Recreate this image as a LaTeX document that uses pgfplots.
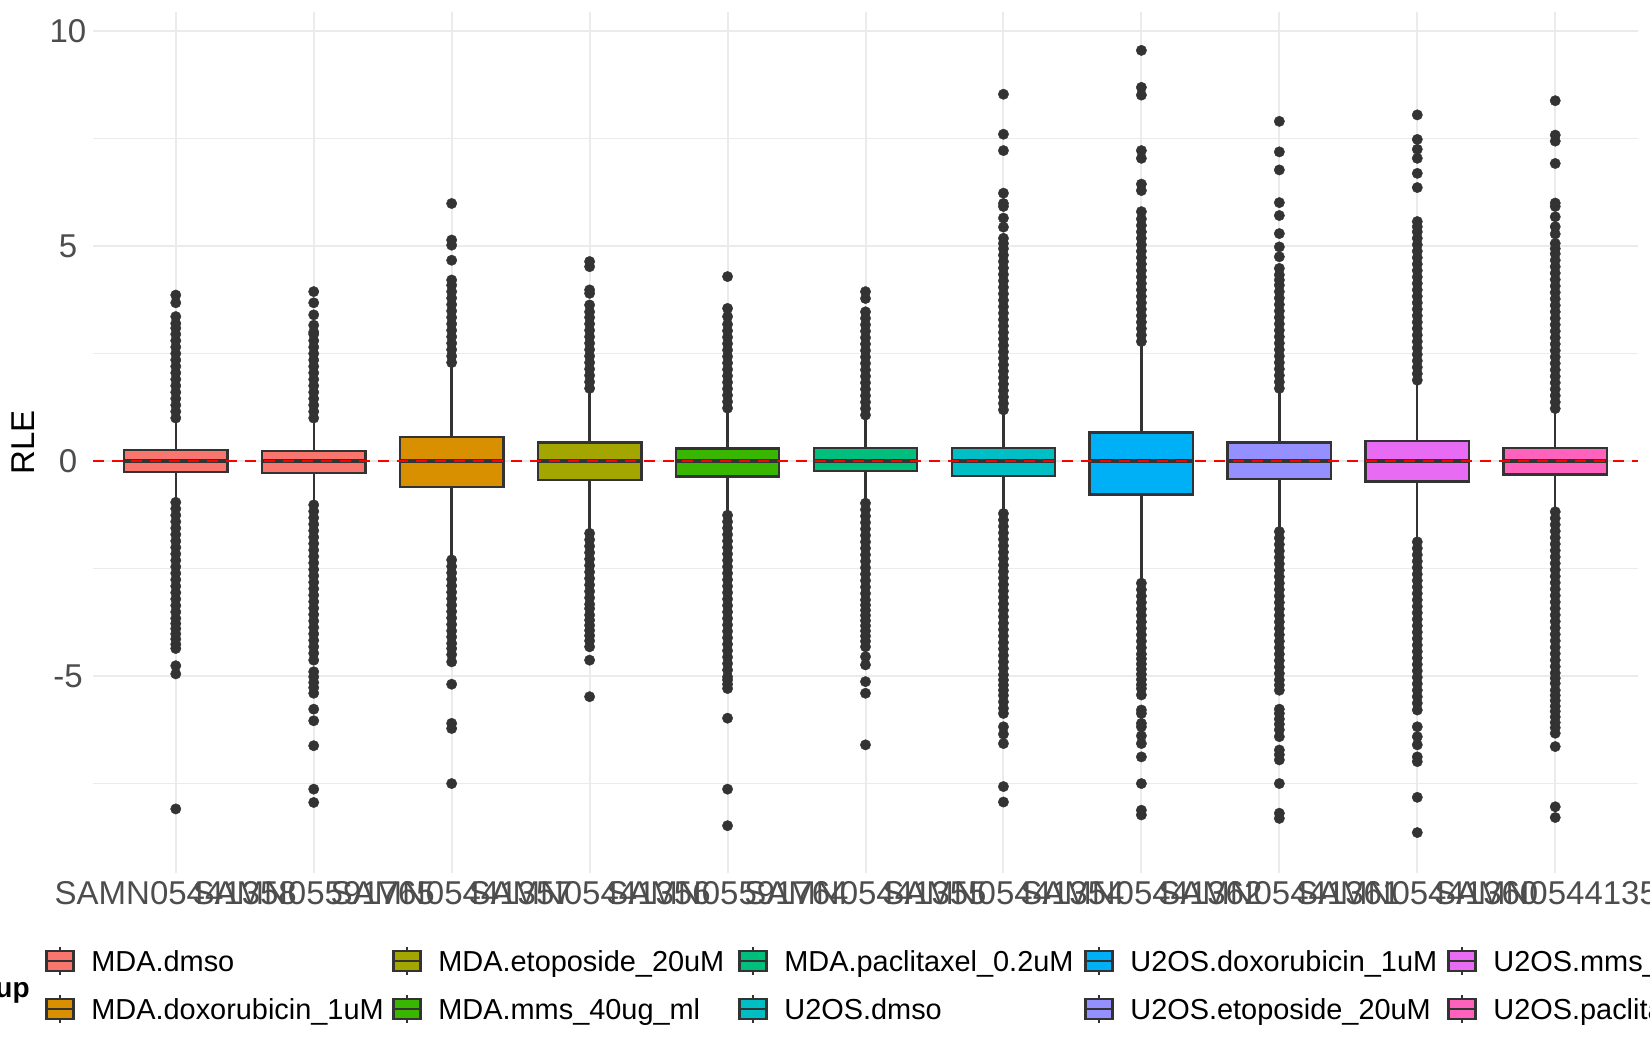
\documentclass[border=0pt]{standalone}
\usepackage{fontspec}
\setmainfont{Liberation Sans}
\usepackage{pgfplots}
\pgfplotsset{compat=1.18}
\usepgfplotslibrary{statistics}
\definecolor{gray20}{HTML}{333333}
\definecolor{gray30}{HTML}{4D4D4D}
\definecolor{gridc}{HTML}{EBEBEB}
\definecolor{c1}{HTML}{F8766D}
\definecolor{c2}{HTML}{D89000}
\definecolor{c3}{HTML}{A3A500}
\definecolor{c4}{HTML}{39B600}
\definecolor{c5}{HTML}{00BF7D}
\definecolor{c6}{HTML}{00BFC4}
\definecolor{c7}{HTML}{00B0F6}
\definecolor{c8}{HTML}{9590FF}
\definecolor{c9}{HTML}{E76BF3}
\definecolor{c10}{HTML}{FF62BC}
\pgfplotsset{
  mybox/.style={draw=gray20, line width=1.2pt, solid, mark=*, mark size=2.6pt,
    mark options={fill=gray20, draw=gray20, line width=0.2pt},
    boxplot/draw direction=y,
    boxplot/box extend=0.75, boxplot/whisker extend=0,
    boxplot/every median/.style={line width=2.4pt}},
}
\newcommand{\lkey}[4]{%
  \draw[gray20, line width=1.1pt] (#1, #2-7pt) -- (#1, #2+7pt);
  \filldraw[fill=#3, draw=gray20, line width=1.1pt] (#1-6.75pt, #2-5pt) rectangle (#1+6.75pt, #2+5pt);
  \draw[gray20, line width=1.1pt] (#1-6.75pt, #2) -- (#1+6.75pt, #2);
  \node[anchor=base west, inner sep=0pt, font=\fontsize{14.45}{17}\selectfont] at (#1+15.5pt, #2-5.2pt) {#4};}
\begin{document}
\begin{tikzpicture}
\useasboundingbox (0,0) rectangle (825pt,525pt);
\clip (0,0) rectangle (825pt,525pt);
\begin{axis}[
  at={(46.5pt,88.5pt)}, anchor=south west, scale only axis,
  width=772.5pt, height=430.65pt,
  xmin=0.4, xmax=11.6, ymin=-9.58, ymax=10.45,
  axis line style={draw=none}, major tick length=0pt, minor tick length=0pt,
  xtick={1,2,3,4,5,6,7,8,9,10,11},
  xticklabels={SAMN05441358,SAMN05591765,SAMN05441357,SAMN05441356,SAMN05591764,SAMN05441355,SAMN05441354,SAMN05441362,SAMN05441361,SAMN05441360,SAMN05441359},
  ytick={-5,0,5,10}, yticklabels={-5,0,5,10},
  minor ytick={-7.5,-2.5,2.5,7.5},
  xmajorgrids, ymajorgrids, yminorgrids,
  major grid style={color=gridc, line width=1pt},
  minor grid style={color=gridc, line width=0.5pt},
  tick label style={font=\fontsize{16.5}{19}\selectfont, text=gray30},
  xticklabel style={anchor=base, yshift=-16pt},
  yticklabel style={anchor=center, inner sep=0pt, xshift=-12.5pt},
  ylabel={RLE},
  every axis y label/.style={at={(rel axis cs:0,0.5)}, xshift=-35pt, rotate=90, anchor=center, font=\fontsize{16.5}{19}\selectfont},
]
\addplot[mybox, fill=c1, boxplot prepared={draw position=1, lower whisker=-0.92, lower quartile=-0.25, median=0, upper quartile=0.25, upper whisker=0.95}]
table[row sep=\\, y index=0] {v\\ 1.00\\ 1.15\\ 1.30\\ 1.45\\ 1.60\\ 1.75\\ 1.90\\ 2.05\\ 2.20\\ 2.35\\ 2.50\\ 2.65\\ 2.80\\ 2.95\\ 3.09\\ 3.20\\ 3.36\\ 3.68\\ 3.86\\
-0.96\\ -1.11\\ -1.26\\ -1.41\\ -1.56\\ -1.71\\ -1.86\\ -2.01\\ -2.16\\ -2.31\\ -2.46\\ -2.61\\ -2.76\\ -2.91\\ -3.06\\ -3.21\\ -3.36\\ -3.51\\ -3.66\\ -3.78\\ -3.90\\ -4.02\\ -4.14\\ -4.26\\ -4.36\\ -4.76\\ -4.95\\ -8.09\\};
\addplot[mybox, fill=c1, boxplot prepared={draw position=2, lower whisker=-0.98, lower quartile=-0.28, median=0, upper quartile=0.24, upper whisker=0.95}]
table[row sep=\\, y index=0] {v\\ 1.00\\ 1.15\\ 1.30\\ 1.45\\ 1.60\\ 1.75\\ 1.90\\ 2.05\\ 2.20\\ 2.35\\ 2.50\\ 2.65\\ 2.80\\ 2.95\\ 3.00\\ 3.16\\ 3.40\\ 3.68\\ 3.94\\
-1.02\\ -1.17\\ -1.32\\ -1.47\\ -1.62\\ -1.77\\ -1.92\\ -2.07\\ -2.22\\ -2.37\\ -2.52\\ -2.67\\ -2.82\\ -2.97\\ -3.12\\ -3.27\\ -3.42\\ -3.57\\ -3.72\\ -3.87\\ -4.02\\ -4.17\\ -4.32\\ -4.47\\ -4.63\\ -4.90\\ -5.02\\ -5.15\\ -5.27\\ -5.40\\ -5.77\\ -6.04\\ -6.62\\ -7.63\\ -7.94\\};
\addplot[mybox, fill=c2, boxplot prepared={draw position=3, lower whisker=-2.25, lower quartile=-0.60, median=0, upper quartile=0.56, upper whisker=2.25}]
table[row sep=\\, y index=0] {v\\ 2.29\\ 2.44\\ 2.59\\ 2.74\\ 2.89\\ 3.04\\ 3.19\\ 3.34\\ 3.49\\ 3.64\\ 3.79\\ 3.94\\ 4.09\\ 4.21\\ 4.67\\ 5.02\\ 5.14\\ 5.99\\
-2.30\\ -2.45\\ -2.60\\ -2.75\\ -2.90\\ -3.05\\ -3.20\\ -3.35\\ -3.50\\ -3.65\\ -3.80\\ -3.95\\ -4.09\\ -4.24\\ -4.36\\ -4.50\\ -4.67\\ -5.19\\ -6.10\\ -6.22\\ -7.50\\};
\addplot[mybox, fill=c3, boxplot prepared={draw position=4, lower whisker=-1.64, lower quartile=-0.44, median=0, upper quartile=0.43, upper whisker=1.65}]
table[row sep=\\, y index=0] {v\\ 1.69\\ 1.84\\ 1.99\\ 2.14\\ 2.29\\ 2.44\\ 2.59\\ 2.74\\ 2.89\\ 3.04\\ 3.19\\ 3.34\\ 3.47\\ 3.63\\ 3.90\\ 3.98\\ 4.52\\ 4.64\\
-1.68\\ -1.83\\ -1.98\\ -2.13\\ -2.28\\ -2.43\\ -2.58\\ -2.73\\ -2.88\\ -3.03\\ -3.18\\ -3.33\\ -3.43\\ -3.58\\ -3.70\\ -3.82\\ -3.94\\ -4.06\\ -4.18\\ -4.32\\ -4.63\\ -5.48\\};
\addplot[mybox, fill=c4, boxplot prepared={draw position=5, lower whisker=-1.22, lower quartile=-0.36, median=0, upper quartile=0.29, upper whisker=1.19}]
table[row sep=\\, y index=0] {v\\ 1.23\\ 1.38\\ 1.53\\ 1.68\\ 1.83\\ 1.98\\ 2.13\\ 2.28\\ 2.43\\ 2.58\\ 2.73\\ 2.88\\ 3.03\\ 3.18\\ 3.36\\ 3.55\\ 4.29\\
-1.26\\ -1.41\\ -1.56\\ -1.71\\ -1.86\\ -2.01\\ -2.16\\ -2.31\\ -2.46\\ -2.61\\ -2.76\\ -2.91\\ -3.06\\ -3.21\\ -3.36\\ -3.51\\ -3.66\\ -3.81\\ -3.96\\ -4.11\\ -4.26\\ -4.41\\ -4.56\\ -4.71\\ -4.86\\ -5.02\\ -5.09\\ -5.19\\ -5.29\\ -5.98\\ -7.63\\ -8.48\\};
\addplot[mybox, fill=c5, boxplot prepared={draw position=6, lower whisker=-0.95, lower quartile=-0.23, median=0, upper quartile=0.30, upper whisker=1.03}]
table[row sep=\\, y index=0] {v\\ 1.07\\ 1.22\\ 1.37\\ 1.52\\ 1.67\\ 1.82\\ 1.97\\ 2.12\\ 2.27\\ 2.42\\ 2.57\\ 2.72\\ 2.87\\ 3.02\\ 3.17\\ 3.32\\ 3.47\\ 3.78\\ 3.94\\
-0.98\\ -1.13\\ -1.28\\ -1.43\\ -1.58\\ -1.73\\ -1.88\\ -2.03\\ -2.18\\ -2.33\\ -2.48\\ -2.63\\ -2.78\\ -2.93\\ -3.08\\ -3.23\\ -3.35\\ -3.47\\ -3.59\\ -3.71\\ -3.83\\ -3.95\\ -4.07\\ -4.19\\ -4.32\\ -4.55\\ -4.74\\ -5.13\\ -5.40\\ -6.60\\};
\addplot[mybox, fill=c6, boxplot prepared={draw position=7, lower whisker=-1.18, lower quartile=-0.35, median=0, upper quartile=0.30, upper whisker=1.15}]
table[row sep=\\, y index=0] {v\\ 1.19\\ 1.34\\ 1.49\\ 1.64\\ 1.79\\ 1.94\\ 2.09\\ 2.24\\ 2.39\\ 2.54\\ 2.69\\ 2.84\\ 2.99\\ 3.14\\ 3.29\\ 3.44\\ 3.59\\ 3.74\\ 3.89\\ 4.04\\ 4.19\\ 4.34\\ 4.49\\ 4.64\\ 4.79\\ 4.94\\ 5.06\\ 5.18\\ 5.44\\ 5.65\\ 5.92\\ 5.99\\ 6.23\\ 7.22\\ 7.60\\ 8.53\\
-1.22\\ -1.37\\ -1.52\\ -1.67\\ -1.82\\ -1.97\\ -2.12\\ -2.27\\ -2.42\\ -2.57\\ -2.72\\ -2.87\\ -3.02\\ -3.17\\ -3.32\\ -3.47\\ -3.62\\ -3.77\\ -3.92\\ -4.07\\ -4.22\\ -4.37\\ -4.52\\ -4.67\\ -4.82\\ -4.97\\ -5.09\\ -5.21\\ -5.33\\ -5.45\\ -5.60\\ -5.75\\ -5.87\\ -6.18\\ -6.35\\ -6.57\\ -7.57\\ -7.93\\};
\addplot[mybox, fill=c7, boxplot prepared={draw position=8, lower whisker=-2.82, lower quartile=-0.78, median=0, upper quartile=0.66, upper whisker=2.75}]
table[row sep=\\, y index=0] {v\\ 2.78\\ 2.93\\ 3.08\\ 3.23\\ 3.38\\ 3.53\\ 3.68\\ 3.83\\ 3.98\\ 4.13\\ 4.28\\ 4.43\\ 4.58\\ 4.73\\ 4.88\\ 5.03\\ 5.18\\ 5.33\\ 5.48\\ 5.63\\ 5.80\\ 6.29\\ 6.44\\ 7.04\\ 7.22\\ 8.51\\ 8.69\\ 9.55\\
-2.84\\ -2.99\\ -3.14\\ -3.29\\ -3.44\\ -3.59\\ -3.74\\ -3.89\\ -4.04\\ -4.19\\ -4.34\\ -4.49\\ -4.60\\ -4.72\\ -4.84\\ -4.96\\ -5.08\\ -5.20\\ -5.29\\ -5.44\\ -5.79\\ -5.87\\ -6.10\\ -6.18\\ -6.39\\ -6.57\\ -6.88\\ -7.50\\ -8.12\\ -8.23\\};
\addplot[mybox, fill=c8, boxplot prepared={draw position=9, lower whisker=-1.62, lower quartile=-0.42, median=0, upper quartile=0.43, upper whisker=1.66}]
table[row sep=\\, y index=0] {v\\ 1.69\\ 1.84\\ 1.99\\ 2.14\\ 2.29\\ 2.44\\ 2.59\\ 2.74\\ 2.89\\ 3.04\\ 3.19\\ 3.34\\ 3.49\\ 3.64\\ 3.79\\ 3.94\\ 4.09\\ 4.21\\ 4.33\\ 4.48\\ 4.75\\ 4.98\\ 5.29\\ 5.71\\ 6.01\\ 6.77\\ 7.19\\ 7.90\\
-1.64\\ -1.79\\ -1.94\\ -2.09\\ -2.24\\ -2.39\\ -2.54\\ -2.69\\ -2.84\\ -2.99\\ -3.14\\ -3.29\\ -3.44\\ -3.59\\ -3.74\\ -3.89\\ -4.04\\ -4.19\\ -4.34\\ -4.49\\ -4.64\\ -4.79\\ -4.94\\ -5.09\\ -5.21\\ -5.33\\ -5.77\\ -5.87\\ -6.00\\ -6.12\\ -6.25\\ -6.41\\ -6.72\\ -6.83\\ -6.95\\ -7.50\\ -8.19\\ -8.31\\};
\addplot[mybox, fill=c9, boxplot prepared={draw position=10, lower whisker=-1.85, lower quartile=-0.48, median=0, upper quartile=0.47, upper whisker=1.85}]
table[row sep=\\, y index=0] {v\\ 1.88\\ 2.03\\ 2.18\\ 2.33\\ 2.48\\ 2.63\\ 2.78\\ 2.93\\ 3.08\\ 3.23\\ 3.38\\ 3.53\\ 3.68\\ 3.83\\ 3.98\\ 4.13\\ 4.28\\ 4.43\\ 4.58\\ 4.73\\ 4.88\\ 5.03\\ 5.18\\ 5.33\\ 5.45\\ 5.57\\ 6.36\\ 6.69\\ 7.04\\ 7.25\\ 7.48\\ 8.05\\
-1.88\\ -2.03\\ -2.18\\ -2.33\\ -2.48\\ -2.63\\ -2.78\\ -2.93\\ -3.08\\ -3.23\\ -3.38\\ -3.53\\ -3.68\\ -3.83\\ -3.98\\ -4.13\\ -4.28\\ -4.43\\ -4.58\\ -4.73\\ -4.88\\ -5.03\\ -5.18\\ -5.33\\ -5.48\\ -5.63\\ -5.79\\ -6.18\\ -6.41\\ -6.60\\ -6.88\\ -6.99\\ -7.82\\ -8.64\\};
\addplot[mybox, fill=c10, boxplot prepared={draw position=11, lower whisker=-1.15, lower quartile=-0.31, median=0, upper quartile=0.31, upper whisker=1.18}]
table[row sep=\\, y index=0] {v\\ 1.22\\ 1.37\\ 1.52\\ 1.67\\ 1.82\\ 1.97\\ 2.12\\ 2.27\\ 2.42\\ 2.57\\ 2.72\\ 2.87\\ 3.02\\ 3.17\\ 3.32\\ 3.47\\ 3.62\\ 3.77\\ 3.92\\ 4.07\\ 4.22\\ 4.37\\ 4.52\\ 4.67\\ 4.82\\ 4.94\\ 5.06\\ 5.28\\ 5.45\\ 5.68\\ 5.92\\ 6.00\\ 6.92\\ 7.44\\ 7.58\\ 8.38\\
-1.18\\ -1.33\\ -1.48\\ -1.63\\ -1.78\\ -1.93\\ -2.08\\ -2.23\\ -2.38\\ -2.53\\ -2.68\\ -2.83\\ -2.98\\ -3.13\\ -3.28\\ -3.43\\ -3.58\\ -3.73\\ -3.88\\ -4.03\\ -4.18\\ -4.33\\ -4.48\\ -4.63\\ -4.78\\ -4.93\\ -5.05\\ -5.17\\ -5.33\\ -5.45\\ -5.57\\ -5.70\\ -5.82\\ -5.95\\ -6.08\\ -6.20\\ -6.33\\ -6.64\\ -8.04\\ -8.29\\};
\addplot[color=red, line width=1pt, dash pattern=on 5.5pt off 4pt, mark=none] coordinates {(0.4,0) (11.6,0)};
\end{axis}
\node[anchor=base east, inner sep=0pt, font=\bfseries\fontsize{14}{17}\selectfont] at (15pt,26pt) {group};
\lkey{30pt}{44.5pt}{c1}{MDA.dmso}
\lkey{30pt}{20.5pt}{c2}{MDA.doxorubicin\_1uM}
\lkey{203.5pt}{44.5pt}{c3}{MDA.etoposide\_20uM}
\lkey{203.5pt}{20.5pt}{c4}{MDA.mms\_40ug\_ml}
\lkey{376.5pt}{44.5pt}{c5}{MDA.paclitaxel\_0.2uM}
\lkey{376.5pt}{20.5pt}{c6}{U2OS.dmso}
\lkey{549.5pt}{44.5pt}{c7}{U2OS.doxorubicin\_1uM}
\lkey{549.5pt}{20.5pt}{c8}{U2OS.etoposide\_20uM}
\lkey{731pt}{44.5pt}{c9}{U2OS.mms\_40ug\_ml}
\lkey{731pt}{20.5pt}{c10}{U2OS.paclitaxel\_0.2uM}
\end{tikzpicture}
\end{document}
